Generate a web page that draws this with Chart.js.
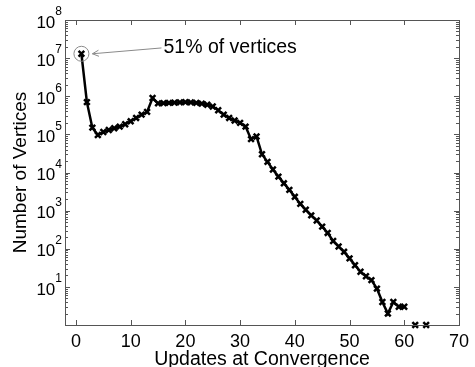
<!DOCTYPE html>
<html>
<head>
<meta charset="utf-8">
<script src="https://cdn.jsdelivr.net/npm/chart.js@4"></script>
<style>
  body { margin: 0; background: #fff; }
  canvas { display: block; }
</style>
</head>
<body>
<canvas id="chart" width="475" height="367"></canvas>
<script>
// updates at convergence (x) and number of vertices (y), null = no vertices
const updates = [];
for (let i = 1; i <= 64; i++) updates.push(i);

const vertices = [
  1.3e7, 7.0e5, 1.5e5, 9.6e4, 1.15e5, 1.3e5, 1.45e5, 1.6e5, 1.85e5, 2.2e5,
  2.7e5, 3.3e5, 3.9e5, 9.0e5, 6.5e5, 6.6e5, 6.7e5, 6.8e5, 6.9e5, 7.0e5,
  6.9e5, 6.7e5, 6.4e5, 6.0e5, 5.4e5, 4.3e5, 3.3e5, 2.7e5, 2.3e5, 2.0e5,
  1.6e5, 7.5e4, 8.8e4, 3.0e4, 1.9e4, 1.2e4, 7800, 5200, 3500, 2300,
  1500, 1050, 750, 550, 380, 260, 160, 115, 83, 56,
  37, 25, 19, 15, 9, 4, 2, 4, 3, 3,
  null, 1, null, 1
];

const xTickValues = [0, 10, 20, 30, 40, 50, 60, 70];
const yExponents = [1, 2, 3, 4, 5, 6, 7, 8];

// annotation: highlighted point and where its label sits
const noteText = "51% of vertices";
const notePoint = { x: 1, y: 1.3e7 };
const noteLabel = { x: 16, y: 1.85e7 };

const FONT = "'Liberation Sans', Arial, sans-serif";
const AXIS = "#555";

//ticks, frame, superscript labels and annotation drawn on top
const framePlugin = {
  id: "frame",
  afterDraw(chart) {
    const ctx = chart.ctx;
    const a = chart.chartArea;
    const xs = chart.scales.x;
    const ys = chart.scales.y;

    ctx.save();
    ctx.strokeStyle = AXIS;
    ctx.lineWidth = 1;
    ctx.strokeRect(Math.round(a.left) + 0.5, Math.round(a.top) + 0.5,
      Math.round(a.right - a.left), Math.round(a.bottom - a.top));

    ctx.beginPath();
    xTickValues.forEach(v => {
      const px = Math.round(xs.getPixelForValue(v)) + 0.5;
      ctx.moveTo(px, a.bottom); ctx.lineTo(px, a.bottom - 5);
      ctx.moveTo(px, a.top); ctx.lineTo(px, a.top + 5);
    });
    for (let e = 0; e <= 8; e++) {
      for (let m = 1; m <= 9; m++) {
        if (e === 8 && m > 1) break;
        const py = Math.round(ys.getPixelForValue(m * Math.pow(10, e))) + 0.5;
        const len = m === 1 ? 5 : 3;
        ctx.moveTo(a.left, py); ctx.lineTo(a.left + len, py);
        ctx.moveTo(a.right, py); ctx.lineTo(a.right - len, py);
      }
    }
    ctx.stroke();

    // y labels as 10 with superscript exponent
    ctx.fillStyle = "#000";
    ctx.textBaseline = "middle";
    yExponents.forEach(e => {
      const py = ys.getPixelForValue(Math.pow(10, e));
      ctx.font = "12px " + FONT;
      ctx.textAlign = "left";
      const supW = ctx.measureText(String(e)).width;
      const supX = a.left - 3 - supW;
      ctx.fillText(String(e), supX, py - 8);
      ctx.font = "17px " + FONT;
      ctx.textAlign = "right";
      ctx.fillText("10", supX, py + 3);
    });

    // annotation
    const cx = xs.getPixelForValue(notePoint.x);
    const cy = ys.getPixelForValue(notePoint.y);
    const lx = xs.getPixelForValue(noteLabel.x);
    const ly = ys.getPixelForValue(noteLabel.y);
    ctx.strokeStyle = "#8a8a8a";
    ctx.lineWidth = 1;
    ctx.beginPath();
    ctx.arc(cx, cy, 7.5, 0, Math.PI * 2);
    ctx.stroke();

    const tipX = cx + 11, tipY = cy;
    ctx.beginPath();
    ctx.moveTo(lx - 2, ly);
    ctx.lineTo(tipX, tipY);
    ctx.stroke();
    const ang = Math.atan2(ly - tipY, lx - 2 - tipX);
    ctx.beginPath();
    ctx.moveTo(tipX, tipY);
    ctx.lineTo(tipX + 7 * Math.cos(ang + 0.45), tipY + 7 * Math.sin(ang + 0.45));
    ctx.moveTo(tipX, tipY);
    ctx.lineTo(tipX + 7 * Math.cos(ang - 0.45), tipY + 7 * Math.sin(ang - 0.45));
    ctx.stroke();

    ctx.fillStyle = "#000";
    ctx.font = "19.5px " + FONT;
    ctx.textAlign = "left";
    ctx.textBaseline = "middle";
    ctx.fillText(noteText, lx, ly);
    ctx.restore();
  }
};

new Chart(document.getElementById("chart").getContext("2d"), {
  type: "line",
  data: {
    labels: updates,
    datasets: [{
      data: updates.map((u, i) => ({ x: u, y: vertices[i] })),
      borderColor: "#000",
      backgroundColor: "#000",
      borderWidth: 2.5,
      pointStyle: "crossRot",
      pointRadius: 4,
      pointBorderWidth: 2.5,
      spanGaps: false,
      tension: 0,
      clip: false
    }]
  },
  options: {
    responsive: false,
    animation: false,
    layout: { padding: { top: 20, right: 13, left: 0, bottom: 0 } },
    plugins: { legend: { display: false }, tooltip: { enabled: false } },
    scales: {
      x: {
        type: "linear",
        min: -2,
        max: 70,
        afterBuildTicks: s => { s.ticks = xTickValues.map(v => ({ value: v })); },
        afterFit: s => { s.height = 42; },
        grid: { display: false, drawTicks: false },
        border: { display: false },
        ticks: { color: "#000", padding: 6, maxRotation: 0, font: { family: FONT, size: 18 } },
        title: {
          display: true,
          text: "Updates at Convergence",
          color: "#000",
          padding: { top: 0, bottom: -4 },
          font: { family: FONT, size: 19.5 }
        }
      },
      y: {
        type: "logarithmic",
        min: 1,
        max: 1e8,
        afterFit: s => { s.width = 65; },
        grid: { display: false, drawTicks: false },
        border: { display: false },
        ticks: { display: false },
        title: {
          display: true,
          text: "Number of Vertices",
          color: "#000",
          padding: { top: 9, bottom: 0 },
          font: { family: FONT, size: 19 }
        }
      }
    }
  },
  plugins: [framePlugin]
});
</script>
</body>
</html>
